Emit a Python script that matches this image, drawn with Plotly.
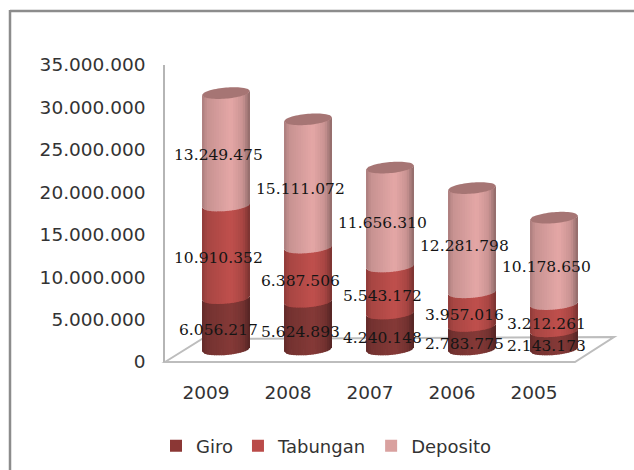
import plotly.graph_objects as go

years = ["2009", "2008", "2007", "2006", "2005"]
giro = [6056217, 5624893, 4240148, 2783775, 2143173]
tabungan = [10910352, 6387506, 5543172, 3957016, 3212261]
deposito = [13249475, 15111072, 11656310, 12281798, 10178650]
series_names = ["Giro", "Tabungan", "Deposito"]
legend_colors = ["#8B3735", "#BA4B49", "#D9A19F"]
side_colors = [(133, 58, 56), (192, 80, 77), (229, 168, 167)]
y_ticks = [0, 5000000, 10000000, 15000000, 20000000, 25000000, 30000000, 35000000]

W, H = 634, 470
L, R, T, B = 165, 614, 65, 362
Y_MAX = 35000000
SLOT = 82.0
U_PER_PX = Y_MAX / (B - T)
FLOOR = 12.5 * U_PER_PX      # cylinders stand on the floor, behind the axis line
SHIFT = 20 / SLOT            # cylinders sit to the right of their tick label
HALF = 24 / SLOT
ARC_H = 5.5
TILT = 2.0
N = 20


def shade(rgb, u):
    pts = [(-1.0, 0.74), (-0.8, 0.87), (0.2, 1.0), (0.7, 0.88), (1.0, 0.62)]
    for (a, fa), (b, fb) in zip(pts, pts[1:]):
        if a <= u <= b:
            f = fa + (fb - fa) * (u - a) / (b - a)
            break
    return "rgb(%d,%d,%d)" % tuple(min(255, int(c * f)) for c in rgb)


def px_x(v):
    return (v - L) / (R - L)


def px_y(v):
    return (B - v) / (B - T)


def arc(level, u, sign=1.0):
    """Data-space y of the rim of a cylinder slice at a data level."""
    rim = (1 - u * u) ** 0.5
    return FLOOR + level + (TILT * u - sign * ARC_H * rim) * U_PER_PX


fig = go.Figure()
shapes = []

# frame
line = dict(color="#8c8c8c", width=2.5)
shapes.append(dict(type="line", xref="paper", yref="paper", x0=px_x(10), x1=px_x(634),
                   y0=px_y(11), y1=px_y(11), line=line))
shapes.append(dict(type="line", xref="paper", yref="paper", x0=px_x(10), x1=px_x(10),
                   y0=px_y(10), y1=px_y(470), line=line))
# floor
floor_pts = [(L, B), (202, 339), (614, 337), (575, B)]
path = "M" + " L".join(f"{px_x(a):.4f},{px_y(b):.4f}" for a, b in floor_pts) + " Z"
shapes.append(dict(type="path", xref="paper", yref="paper", path=path, layer="below",
                   fillcolor="white", line=dict(color="#bdbdbd", width=2)))

values = [giro, tabungan, deposito]
cum = [[0] * len(years)]
for s in values:
    cum.append([c + v for c, v in zip(cum[-1], s)])

for name, col, s, base in zip(series_names, legend_colors, values, cum):
    fig.add_trace(go.Bar(
        name=name, x=years, y=s, base=[FLOOR + b for b in base],
        width=44 / SLOT, offset=SHIFT - 22 / SLOT,
        marker=dict(color=col, line=dict(width=0)), hoverinfo="skip",
    ))

annotations = []
for k, (s, base, rgb) in enumerate(zip(values, cum, side_colors)):
    for i, v in enumerate(s):
        cx = i + SHIFT
        for j in range(N):
            u0, u1 = -1 + 2 * j / N, -1 + 2 * (j + 1) / N
            uo = min(1.0, u1 + 0.03)
            up = [(cx + HALF * u, arc(base[i] + v, u)) for u in (u0, uo)]
            dn = [(cx + HALF * u, arc(base[i], u)) for u in (uo, u0)]
            p = "M" + " L".join(f"{a:.5f},{b:.1f}" for a, b in up + dn) + " Z"
            shapes.append(dict(type="path", xref="x", yref="y", path=p,
                               fillcolor=shade(rgb, (u0 + u1) / 2), line=dict(width=0)))
        annotations.append(dict(
            x=cx - 8 / SLOT, y=FLOOR + base[i] + v / 2, xref="x", yref="y",
            text=f"{v:,}".replace(",", "."), showarrow=False, yshift=-6,
            font=dict(family="DejaVu Serif", size=15.5, color="#151515"),
        ))

# cylinder tops
for i in range(len(years)):
    cx = i + SHIFT
    us = [-1 + 2 * j / 24 for j in range(25)]
    pts = [(cx + HALF * u, arc(cum[-1][i], u)) for u in us]
    pts += [(cx + HALF * u, arc(cum[-1][i], u, -1.0)) for u in reversed(us)]
    p = "M" + " L".join(f"{a:.5f},{b:.1f}" for a, b in pts) + " Z"
    shapes.append(dict(type="path", xref="x", yref="y", path=p,
                       fillcolor="rgb(166,117,116)", line=dict(width=0)))

# x axis front edge is part of the floor; y wall drawn by axis line
fig.update_layout(
    width=W, height=H, autosize=False,
    margin=dict(l=L, r=W - R, t=T, b=H - B, pad=0),
    paper_bgcolor="white", plot_bgcolor="rgba(0,0,0,0)",
    barmode="overlay", separators=",.", shapes=shapes, annotations=annotations,
    font=dict(family="DejaVu Sans", size=18, color="#333333"),
    xaxis=dict(type="category", range=[-0.5, -0.5 + (R - L) / SLOT], showgrid=False,
               showline=False, ticks="", ticklabelstandoff=17, fixedrange=True,
               tickfont=dict(size=18.5, color="#333333"), categoryorder="array", categoryarray=years),
    yaxis=dict(range=[0, Y_MAX], tickvals=y_ticks, tickformat=",.0f", showgrid=False,
               zeroline=False, showline=True, linecolor="#b5b5b5", linewidth=1.5,
               ticks="", ticklabelstandoff=14, fixedrange=True,
               tickfont=dict(size=18.5, color="#333333")),
    legend=dict(orientation="h", xref="container", yref="container",
                x=156 / W, y=1 - 446 / H, xanchor="left", yanchor="middle",
                font=dict(size=18, color="#333333"), traceorder="normal",
                bgcolor="rgba(0,0,0,0)", itemclick=False, itemdoubleclick=False),
    showlegend=True,
)
fig.write_html("out.html", config=dict(displayModeBar=False),
               post_script="document.body.style.margin='0';document.body.style.overflow='hidden';")
